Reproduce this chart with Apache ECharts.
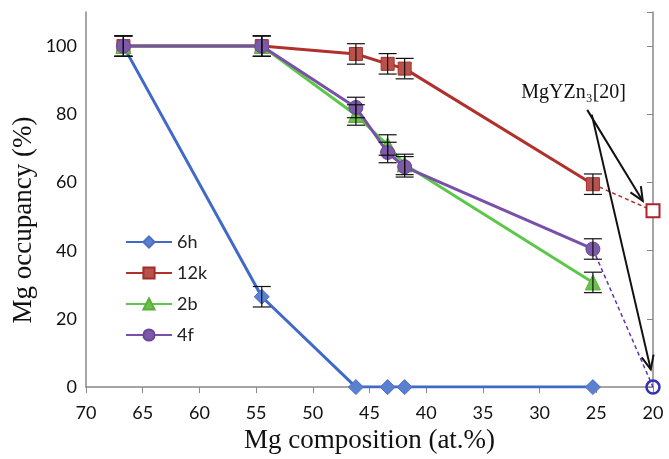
<!DOCTYPE html>
<html>
<head>
<meta charset="utf-8">
<script src="https://cdn.jsdelivr.net/npm/echarts@6/dist/echarts.min.js"></script>
<style>
html,body{margin:0;padding:0;background:#fff;}
#chart{width:669px;height:459px;}
</style>
</head>
<body>
<div id="chart"></div>
<script>
// ---- data ----
const compositions = [66.7, 54.5, 46.2, 43.4, 41.9, 25.3];
const occ6h  = [100, 26.5, 0, 0, 0, 0];
const occ12k = [100, 100, 97.7, 94.8, 93.4, 59.5];
const occ2b  = [100, 100, 79.8, 71.0, 65.3, 30.7];
const occ4f  = [100, 100, 82.0, 68.8, 64.6, 40.5];
const err6h  = [3, 3, null, null, null, null];
const err12k = [3, 3, 3, 3, 3, 3];
const err2b  = [3, 3, 3, 3, 3, 3];
const err4f  = [3, 3, 3, 3, 3, 3];
// MgYZn3 [20] reference values at 20 at.%
const refComposition = [25.3, 20];
const ref12k = [59.5, 51.7];
const ref4f  = [40.5, 0];
const seriesNames = ['6h', '12k', '2b', '4f'];
const xTickValues = [70, 65, 60, 55, 50, 45, 40, 35, 30, 25, 20];
const yTickValues = [0, 20, 40, 60, 80, 100];
const annotationText = 'MgYZn₃[20]';

// ---- build ----
const pairs = (xs, ys) => xs.map((x, i) => [x, ys[i]]);
const errData = (xs, ys, es) => xs.map((x, i) => [x, ys[i], es[i]]).filter(d => d[2] != null);

const C6h = '#4169c8', C12k = '#b0302c', C2b = '#5cc84a', C4f = '#7950a8';

function errSeries(data) {
  return {
    type: 'custom', data: data, z: 10, silent: true,
    renderItem: function (params, api) {
      const x = api.value(0), y = api.value(1), e = api.value(2);
      const p1 = api.coord([x, y + e]);
      const p2 = api.coord([x, y - e]);
      const w = 9;
      const st = { stroke: '#111', lineWidth: 1.2 };
      return { type: 'group', children: [
        { type: 'line', shape: { x1: p1[0], y1: p1[1], x2: p2[0], y2: p2[1] }, style: st },
        { type: 'line', shape: { x1: p1[0] - w, y1: p1[1], x2: p1[0] + w, y2: p1[1] }, style: st },
        { type: 'line', shape: { x1: p2[0] - w, y1: p2[1], x2: p2[0] + w, y2: p2[1] }, style: st }
      ]};
    }
  };
}

const chart = echarts.init(document.getElementById('chart'));
const option = {
  animation: false,
  backgroundColor: '#fff',
  grid: { left: 86, right: 16, top: 12, bottom: 64 },
  legend: {
    data: seriesNames,
    orient: 'vertical', left: 120, top: 228,
    itemWidth: 46, itemHeight: 14, itemGap: 13,
    textStyle: { fontFamily: 'Lato', fontSize: 18, color: '#222', lineHeight: 18 }
  },
  xAxis: {
    type: 'value', min: 20, max: 70, interval: 5, inverse: true,
    name: 'Mg composition (at.%)', nameLocation: 'middle', nameGap: 38,
    nameTextStyle: { fontFamily: 'Liberation Serif', fontSize: 27, color: '#111' },
    axisLine: { lineStyle: { color: '#888', width: 1.5 } },
    axisTick: { show: true, length: 6, lineStyle: { color: '#888' } },
    axisLabel: { margin: 17, fontFamily: 'Lato', fontSize: 18, color: '#111',
      formatter: v => xTickValues.includes(v) ? String(v) : '' },
    splitLine: { show: false }
  },
  yAxis: [{
    type: 'value', min: 0, max: 110, interval: 20,
    axisLine: { show: true, lineStyle: { color: '#888', width: 1.5 } },
    axisTick: { show: false },
    axisLabel: { margin: 9, fontFamily: 'Lato', fontSize: 18, color: '#111',
      formatter: v => yTickValues.includes(v) ? String(v) : '' },
    splitLine: { show: false }
  }, {
    type: 'value', min: 0, max: 110, interval: 20, position: 'right',
    axisLine: { show: true, lineStyle: { color: '#888', width: 1.5 } },
    axisTick: { show: true, inside: true, length: 6, lineStyle: { color: '#888' } },
    axisLabel: { show: false },
    splitLine: { show: false }
  }],
  series: [
    { name: '6h', type: 'line', data: pairs(compositions, occ6h), z: 2,
      symbol: 'diamond', symbolSize: 15,
      lineStyle: { color: C6h, width: 3 }, itemStyle: { color: '#5b80d2', borderColor: '#4d70c4', borderWidth: 1 } },
    { name: '12k', type: 'line', data: pairs(compositions, occ12k), z: 3,
      symbol: 'rect', symbolSize: 13,
      lineStyle: { color: C12k, width: 3 }, itemStyle: { color: '#b9524c', borderColor: '#a0302a', borderWidth: 1 } },
    { name: '2b', type: 'line', data: pairs(compositions, occ2b), z: 4,
      symbol: 'triangle', symbolSize: 15,
      lineStyle: { color: C2b, width: 3 }, itemStyle: { color: '#6cc04c', borderColor: '#5aae3c', borderWidth: 1 } },
    { name: '4f', type: 'line', data: pairs(compositions, occ4f), z: 5,
      symbol: 'circle', symbolSize: 14,
      lineStyle: { color: C4f, width: 3 }, itemStyle: { color: '#7c5aa8', borderColor: '#6a4898', borderWidth: 1 } },
    { name: '12k ref', type: 'line', data: pairs(refComposition, ref12k), z: 2,
      symbol: (v, p) => p.dataIndex === 1 ? 'rect' : 'none', symbolSize: 13,
      lineStyle: { color: C12k, width: 1.5, type: [4, 3] },
      itemStyle: { color: '#fff', borderColor: '#b0202a', borderWidth: 2 } },
    { name: '4f ref', type: 'line', data: pairs(refComposition, ref4f), z: 2,
      symbol: (v, p) => p.dataIndex === 1 ? 'circle' : 'none', symbolSize: 13,
      lineStyle: { color: '#6034b0', width: 1.5, type: [4, 3] },
      itemStyle: { color: 'rgba(255,255,255,0)', borderColor: '#3530b8', borderWidth: 2.5 } },
    errSeries(errData(compositions, occ6h, err6h)),
    errSeries(errData(compositions, occ12k, err12k)),
    errSeries(errData(compositions, occ2b, err2b)),
    errSeries(errData(compositions, occ4f, err4f))
  ]
};
chart.setOption(option);

// ---- annotation (placed in data coordinates) ----
const labelAt = [27.0, 86.2];
const arrowStarts = [[25.8, 81.3], [25.4, 79.9]];
const arrowEnds = [[20.9, 54.6], [20.2, 5.2]];
const px = d => chart.convertToPixel({ gridIndex: 0 }, d);
const graphics = [];
arrowStarts.forEach((s, i) => {
  const a = px(s), b = px(arrowEnds[i]);
  const ang = Math.atan2(b[1] - a[1], b[0] - a[0]);
  const L = 15, h = 0.42;
  const l1 = [b[0] - L * Math.cos(ang - h), b[1] - L * Math.sin(ang - h)];
  const l2 = [b[0] - L * Math.cos(ang + h), b[1] - L * Math.sin(ang + h)];
  graphics.push({ type: 'line', shape: { x1: a[0], y1: a[1], x2: b[0], y2: b[1] }, style: { stroke: '#111', lineWidth: 2 }, z: 20 });
  graphics.push({ type: 'polyline', shape: { points: [l1, b, l2] }, style: { stroke: '#111', lineWidth: 2, fill: null }, z: 20 });
});
const lp = px(labelAt);
graphics.push({ type: 'text', x: lp[0], y: lp[1], z: 20,
  style: { text: annotationText, fontFamily: 'Liberation Serif', fontSize: 20, fill: '#111', textAlign: 'center', textVerticalAlign: 'middle' } });
graphics.push({ type: 'text', x: 24, y: 220, rotation: Math.PI / 2, z: 20,
  style: { text: 'Mg occupancy (%)', fontFamily: 'Liberation Serif', fontSize: 27, fill: '#111', textAlign: 'center', textVerticalAlign: 'middle' } });
chart.setOption({ graphic: graphics });
</script>
</body>
</html>
